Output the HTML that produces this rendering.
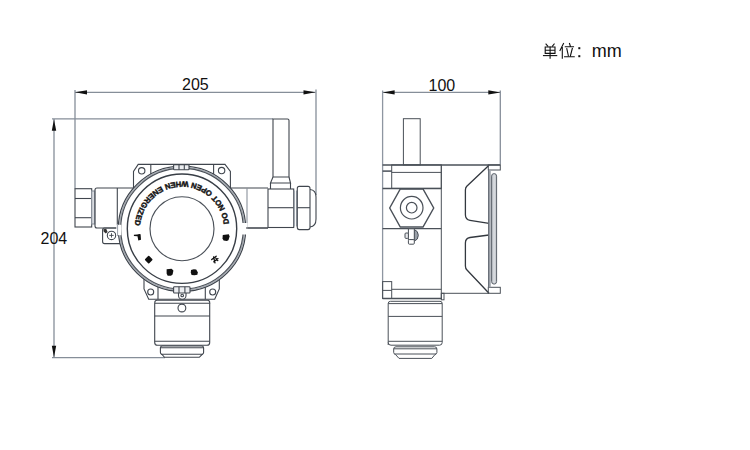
<!DOCTYPE html>
<html><head><meta charset="utf-8"><style>
html,body{margin:0;padding:0;background:#fff;}
body{width:750px;height:450px;overflow:hidden;}
svg{display:block;}
text{font-family:"Liberation Sans",sans-serif;}
</style></head><body>
<svg width="750" height="450" viewBox="0 0 750 450">
<rect width="750" height="450" fill="#fff"/>
<!-- ================= DIMENSIONS ================= -->
<g stroke="#868e99" stroke-width="1.3" fill="none">
  <!-- front horizontal -->
  <line x1="75" y1="92.3" x2="315.5" y2="92.3"/>
  <line x1="75" y1="90" x2="75" y2="188.5"/>
  <line x1="316" y1="89.5" x2="316" y2="195"/>
  <!-- front vertical -->
  <line x1="54" y1="119" x2="54" y2="357.5"/>
  <line x1="52" y1="118.8" x2="273" y2="118.8"/>
  <line x1="52" y1="357.6" x2="165" y2="357.6"/>
  <!-- side horizontal -->
  <line x1="382.5" y1="92.4" x2="500.3" y2="92.4"/>
  <line x1="500.3" y1="90.5" x2="500.3" y2="164.5"/>
</g>
<g fill="#111">
  <polygon points="75,92.3 87,90.2 87,94.4"/>
  <polygon points="315.5,92.3 303.5,90.2 303.5,94.4"/>
  <polygon points="54,119.2 51.8,130.8 56.2,130.8"/>
  <polygon points="54,357.2 51.8,345.8 56.2,345.8"/>
  <polygon points="382.6,92.4 394.6,90.3 394.6,94.5"/>
  <polygon points="500.3,92.4 488.3,90.3 488.3,94.5"/>
</g>
<g font-size="16" fill="#111">
  <text x="182" y="90">205</text>
  <text x="40.5" y="244">204</text>
  <text x="428.5" y="90.7">100</text>
</g>

<!-- ================= FRONT VIEW ================= -->
<g stroke="#40464e" stroke-width="1.1" fill="none">
  <!-- antenna -->
  <path d="M273,177 V119 H287.5 Q289,119 289,120.5 V177 Z" fill="#fff"/>
  <path d="M273,177 L270.5,183 H290.5 L289,177"/>
  <path d="M270.5,183 V189 M290.5,183 V189"/>
  <!-- right nut -->
  <rect x="268" y="189" width="25.7" height="38.5"/>
  <line x1="268" y1="207.7" x2="293.7" y2="207.7"/>
  <line x1="294.3" y1="190.5" x2="294.3" y2="226.5" stroke="#9aa2ad"/>
  <line x1="296.5" y1="190.5" x2="296.5" y2="226.5" stroke="#9aa2ad"/>
  <!-- gland -->
  <rect x="297.3" y="186.4" width="12.7" height="43.2" rx="2"/>
  <line x1="297.3" y1="207.7" x2="310" y2="207.7"/>
  <path d="M310,189.5 Q316,190 316,197 V219 Q316,226.5 310,227" />
  <!-- right pipe -->
  <path d="M225,188 H268 M225,228 H268"/>
  <line x1="247" y1="188" x2="247" y2="228" stroke="#8a929c"/>
  <!-- left plug -->
  <rect x="75" y="188.7" width="16.7" height="38.3"/>
  <line x1="75" y1="198.5" x2="91.7" y2="198.5"/>
  <line x1="75" y1="217.7" x2="91.7" y2="217.7"/>
  <rect x="91.7" y="191" width="3" height="33" fill="#d8dbe0" stroke="#8a929c"/>
  <!-- left nut/pipe -->
  <path d="M140,188 H97 Q95,188 95,190 V226 Q95,228 97,228 H140"/>
  <line x1="117.3" y1="188" x2="117.3" y2="228"/>
  <!-- ground lug -->
  <path d="M125,228 H104.5 Q102.6,228 102.6,230 V241.5 Q102.6,243.6 104.6,243.6 H125"/>
  <circle cx="111.5" cy="235.4" r="4.2"/>
  <path d="M109.3,235.4 H113.7 M111.5,233.2 V237.6" stroke-width="0.9"/>
  <path d="M103.4,229.2 L106.2,228.8 L107.6,232 L105.8,233.4 L103.6,231.6 Z" fill="#333" stroke="none"/>
  <!-- top bracket -->
  <path d="M133.5,200 V171.5 L138.2,164.4 H225 L230.4,171.5 V200" fill="#fff"/>
  <circle cx="141.7" cy="170.8" r="3.2"/>
  <circle cx="221.6" cy="170.6" r="3.2"/>
  <line x1="150.8" y1="164.4" x2="150.8" y2="180"/>
  <line x1="213.6" y1="164.4" x2="213.6" y2="180"/>
  <!-- bottom bracket -->
  <path d="M144,270 V289 L148.7,299.3 H214.7 L219.3,289 V270" fill="#fff"/>
  <circle cx="150.7" cy="292" r="3"/>
  <circle cx="212.7" cy="292" r="3"/>
  <line x1="158" y1="280" x2="158" y2="299.3"/>
  <line x1="205.3" y1="280" x2="205.3" y2="299.3"/>
  <!-- housing circles -->
  <ellipse cx="182" cy="228.7" rx="63.6" ry="62.6" fill="#fff" stroke="#3c424a" stroke-width="1.4"/>
  <ellipse cx="182" cy="228.7" rx="62.5" ry="61.5" stroke="#a4a9b0" stroke-width="1.5"/>
  <ellipse cx="182" cy="228.7" rx="61.3" ry="60.3" stroke="#4a5058" stroke-width="1.2"/>
  <rect x="241.5" y="223" width="6" height="11.5" fill="#fff" stroke="none"/>
  <rect x="116.3" y="224.8" width="5" height="10.4" fill="#fff" stroke="none"/>
  <line x1="117.6" y1="224" x2="117.6" y2="236" stroke="#9aa1aa" stroke-width="1"/>
  <line x1="246" y1="228" x2="268" y2="228"/>
  <circle cx="182" cy="228.7" r="54.7" stroke="#383e46" stroke-width="1.4"/>
  <circle cx="182" cy="228.7" r="32" stroke="#4a5058" stroke-width="1.15"/>
  <!-- top tab -->
  <rect x="173.6" y="164.6" width="15.4" height="5.2" rx="0.8" fill="#eceef1"/>
  <line x1="179" y1="164.6" x2="179" y2="169.8"/>
  <line x1="184.3" y1="164.6" x2="184.3" y2="169.8"/>
  <!-- bottom tab -->
  <path d="M178.5,293 V295.5 A3.7,3.7 0 0 0 186,295.5 V293" fill="#fff"/>
  <circle cx="182.2" cy="295.5" r="1.3"/>
  <rect x="173.6" y="286.7" width="16.4" height="6.3" rx="0.8" fill="#eceef1"/>
  <line x1="179" y1="286.7" x2="179" y2="293"/>
  <line x1="184.9" y1="286.7" x2="184.9" y2="293"/>
  <!-- sensor body -->
  <path d="M154.8,303.3 V302.4 Q154.8,300.2 157,300.2 H207.5 Q209.7,300.2 209.7,302.4 V303.3 Z"/>
  <path d="M154.7,303.3 V342.5 Q154.7,345.3 157.5,345.3 H207 Q209.7,345.3 209.7,342.5 V303.3"/>
  <line x1="154.7" y1="316" x2="209.7" y2="316"/>
  <line x1="154.7" y1="341.3" x2="209.7" y2="341.3"/>
  <circle cx="181.9" cy="308" r="3.9"/>
  <!-- cap -->
  <path d="M162.5,346 H201.5 Q203.6,346 203.6,348 V352.5 Q203.6,354 202,354.5 L199.3,357.3 H164.5 L162,354.5 Q160.4,354 160.4,352.5 V348 Q160.4,346 162.5,346 Z"/>
  <line x1="160.4" y1="347.8" x2="203.6" y2="347.8"/>
  <line x1="161" y1="354.2" x2="203" y2="354.2"/>
</g>
<!-- warning text ring -->
<defs>
  <linearGradient id="glass" x1="0" x2="1" y1="0" y2="0">
    <stop offset="0" stop-color="#b4b8bf"/>
    <stop offset="0.5" stop-color="#dcdfe3"/>
    <stop offset="1" stop-color="#b8bcc2"/>
  </linearGradient>
  <path id="ring" d="M229.2,228.7 A47.2,47.2 0 1 0 134.8,228.7"/>
</defs>
<g style="opacity:0.99">
<text font-size="7.7" font-weight="bold" fill="#111" stroke="#111" stroke-width="0.45"><textPath href="#ring" startOffset="5" textLength="139.5" lengthAdjust="spacing">DO NOT OPEN WHEN ENERGIZED</textPath></text>
</g>
<!-- chinese chars (approximated) -->
<g fill="#111">
  <path d="M133.9,234.8 L137.3,234.5 L139.3,234 L140.6,234.2 L141,239.8 L138.3,240.6 L137.5,236.3 L133.9,236.1 Z"/>
  <rect x="145.8" y="256.7" width="5.8" height="5.8" rx="0.8" transform="rotate(45 148.7 259.6)"/>
  <path d="M166.6,269.2 L171.5,268.8 L173.4,270.6 L172.6,274.5 L171,275.8 L167.7,275.8 L166.6,273.5 Z"/>
  <path d="M191,270 L193.8,269.2 L196.2,269.6 L197.8,272.3 L197.4,274.8 L194.5,275.2 L191.6,275 L190.8,272.5 Z"/>
  <g stroke="#111" stroke-width="1.3" fill="none" stroke-linecap="round">
    <path d="M211.7,259.6 L216.2,256.2 M213.8,261.8 L218,258.6 M213.6,256.8 L215,262.8 M215.8,258.2 L217.8,260.6"/>
  </g>
  <path d="M222.8,235 L228.8,234.2 L229.6,236.5 L228.4,240.2 L226.8,241 L223.6,240.4 L222.5,238.5 Z"/>
</g>

<!-- ================= SIDE VIEW ================= -->
<g stroke="#4a5058" stroke-width="1" fill="none">
  <line x1="382.6" y1="90.5" x2="382.6" y2="298.5" stroke="#8e96a1" stroke-width="1.3"/>
  <rect x="403.4" y="118.7" width="16.8" height="46.2"/>
  <line x1="382.6" y1="164.9" x2="500.3" y2="164.9" stroke-width="1.5"/>
  <rect x="391.7" y="164.9" width="49.6" height="23.5"/>
  <line x1="391.7" y1="172.4" x2="441.3" y2="172.4"/>
  <line x1="382.6" y1="171.1" x2="391.7" y2="171.1" stroke-width="1.5"/>
  <line x1="382.6" y1="188.5" x2="441.3" y2="188.5" stroke-width="1.6"/>
  <polygon points="400.3,189 423,189 433.7,208 423,227 400.3,227 389.7,208" stroke-width="1.4"/>
  <circle cx="411.7" cy="207.7" r="11.3" stroke-width="1.2"/>
  <circle cx="411.7" cy="207.7" r="5.3" stroke-width="1.2"/>
  <line x1="382.6" y1="228.6" x2="441.3" y2="228.6" stroke-width="1.4"/>
  <!-- ground screw -->
  <path d="M414.3,229.5 Q418.3,231 418.3,235.3 Q418.3,239.8 414.3,241.2 Z" fill="#9aa0a8"/>
  <rect x="408.4" y="228.8" width="5.9" height="10.8" fill="#fff"/>
  <rect x="408.4" y="239.6" width="5.9" height="4.6" rx="1" fill="#fff"/>
  <rect x="405" y="233" width="3.4" height="5.4" rx="1" fill="#e6e8eb"/>
  <line x1="441.3" y1="164.9" x2="441.3" y2="298.5"/>
  <!-- bottom -->
  <rect x="382.6" y="281.6" width="9.1" height="16.9"/>
  <line x1="382.6" y1="290.4" x2="391.7" y2="290.4"/>
  <line x1="391.7" y1="289.3" x2="441.3" y2="289.3"/>
  <line x1="382.6" y1="298.5" x2="442" y2="298.5" stroke-width="1.5"/>
  <rect x="441.3" y="293.3" width="2.7" height="6.5"/>
  <!-- sensor -->
  <path d="M388.2,345 V303.5 Q388.2,301.3 390.5,301.3 H440 Q442.2,301.3 442.2,303.5 V342.5 Q442.2,345.2 439.5,345.2 H391 Q388.2,345.2 388.2,342.5"/>
  <line x1="388.2" y1="303.6" x2="442.2" y2="303.6"/>
  <line x1="388.2" y1="316.4" x2="442.2" y2="316.4"/>
  <line x1="388.2" y1="341.3" x2="442.2" y2="341.3"/>
  <path d="M396,346.8 H434.6 Q436.9,346.8 436.9,349 V352.5 Q436.9,354 435,354.5 L431.8,358.4 H399 L395.5,354.5 Q393.7,354 393.7,352.5 V349 Q393.7,346.8 396,346.8 Z"/>
  <line x1="393.7" y1="348.8" x2="436.9" y2="348.8"/>
  <line x1="394.5" y1="354" x2="436" y2="354"/>
  <!-- back plate -->
  <path d="M489,165.3 L466.8,186.2 Q465.4,187.6 465.4,190 V214.7 Q465.4,219.5 470,220.3 L489,223.3" stroke="#33383f" stroke-width="1.3"/>
  <path d="M489,235 L470,237.5 Q465.4,238.3 465.4,243 V266 Q465.4,268.5 467,270 L489,293.3" stroke="#33383f" stroke-width="1.3"/>
  <line x1="441.3" y1="293.3" x2="489" y2="293.3"/>
  <rect x="488.3" y="164.9" width="12" height="5.1"/>
  <rect x="488.3" y="287.3" width="12" height="6"/>
  <rect x="488.2" y="170" width="2.6" height="117.3" fill="#a4a9b0" stroke="none"/>
  <line x1="488.7" y1="170" x2="488.7" y2="287.3" stroke="#5a606a"/>
  <rect x="491.6" y="173.6" width="5" height="110.5" rx="2.5" fill="url(#glass)" stroke="#5c626b" stroke-width="1"/>
</g>

<!-- ================= UNIT LABEL ================= -->
<g stroke="#111" stroke-width="1.1" fill="none" stroke-linecap="square">
  <!-- 单 -->
  <path d="M546,44 L547.8,46.2 M554.2,44 L552.4,46.2"/>
  <path d="M545.2,47 H555 V53.4 H545.2 Z M545.2,50.2 H555"/>
  <path d="M543.5,55.6 H556.7"/>
  <path d="M550.1,47 V58.3"/>
  <!-- 位 -->
  <path d="M563.5,43.5 L560,50.5 M562.3,47.5 V58.3"/>
  <path d="M569.5,43.5 L570.3,46 M565.3,46.7 H573.5 M566.8,48.7 L568.3,55.5 M572.3,48.5 L570.5,55.5 M564.6,56.8 H574.2"/>
</g>
<g fill="#111">
  <rect x="578.3" y="47.2" width="2" height="2"/>
  <rect x="578.3" y="55.2" width="2" height="2"/>
  <text x="591.8" y="57.2" font-size="18">mm</text>
</g>
</svg>
</body></html>
